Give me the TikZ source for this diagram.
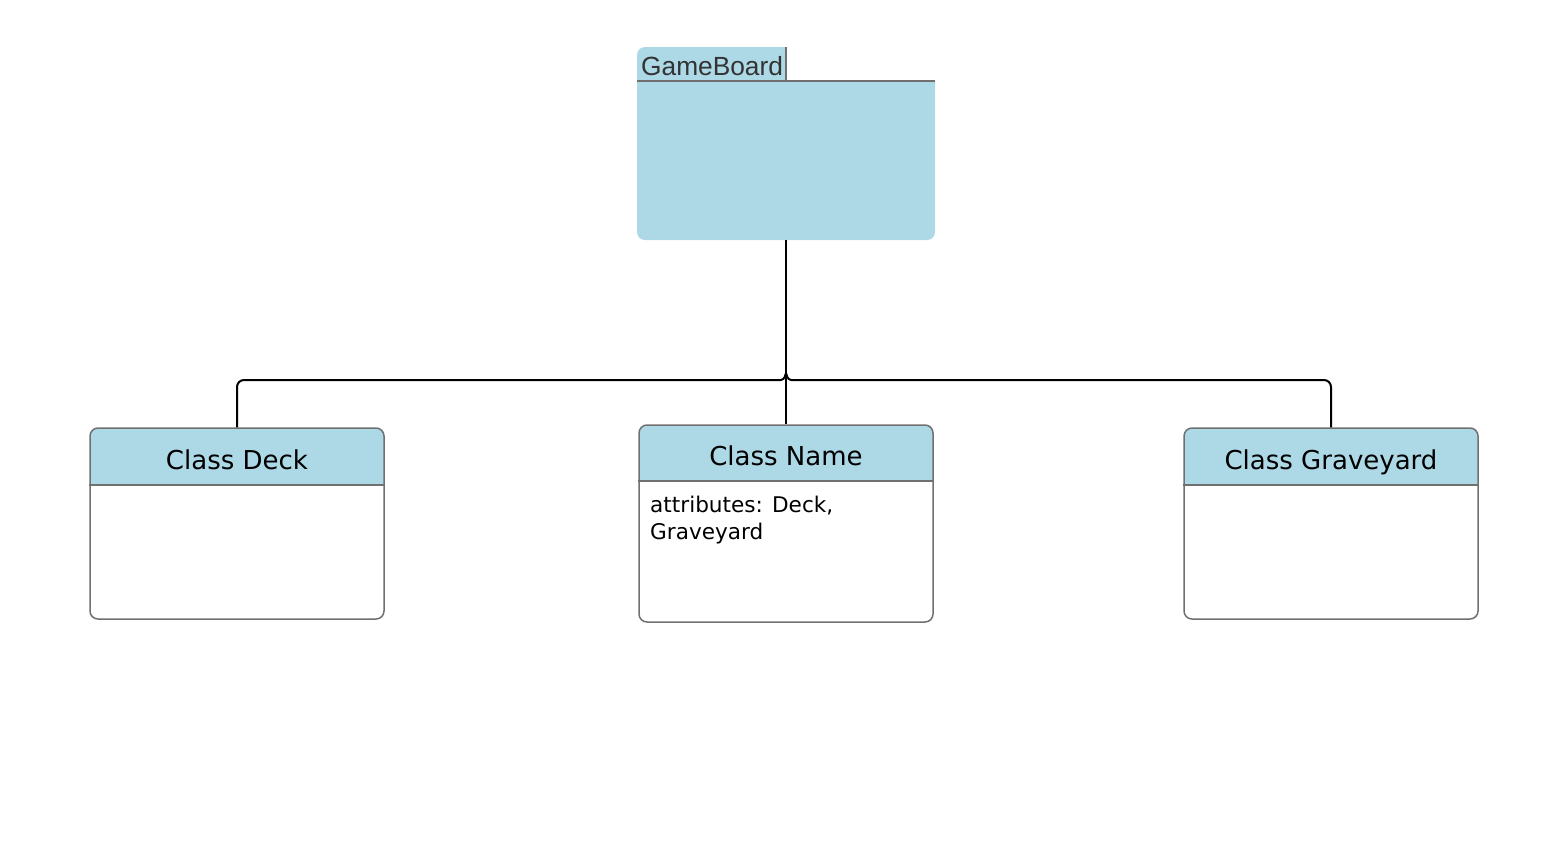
\documentclass[tikz,border=0pt]{standalone}
\usepackage{fontspec}
\newfontfamily\dejavu{DejaVu Sans}
\newfontfamily\arialfont{Liberation Sans}
\usepackage{tikz}
\usetikzlibrary{calc}

\definecolor{boxblue}{HTML}{ADD8E6}
\definecolor{edgegray}{HTML}{707070}
\definecolor{tabtext}{HTML}{333333}

\tikzset{
  classbox/.style={draw=edgegray, line width=1.5pt, rounded corners=8pt, minimum width=294pt, inner sep=0pt},
  classtitle/.style={font=\dejavu\fontsize{26}{30}\selectfont, text=black, anchor=base, inner sep=0pt},
  attrtext/.style={font=\dejavu\fontsize{21.6}{26.5}\selectfont, align=left, anchor=north west, inner sep=0pt},
  link/.style={draw=black, line width=2pt},
}

\begin{document}
\begin{tikzpicture}[x=1pt, y=-1pt]
            \useasboundingbox (0,0) rectangle (1568,846);
            % GameBoard
            \node[fill=boxblue, rounded corners=8pt, minimum width=298pt, minimum height=193pt, inner sep=0pt] (board) at (786,143.5) {};
            \fill[white] (786.8,46) rectangle (936,80.2);
            \draw[edgegray, line width=1.5pt] (637,81) -- (935,81);
            \draw[edgegray, line width=1.5pt] (786,47) -- (786,81);
            \node[font=\arialfont\fontsize{26.3}{30}\selectfont, text=tabtext, anchor=base west, inner sep=0pt] (boardtab) at (641,75) {GameBoard};

            % Class Deck
            \fill[boxblue] (90,485) -- (90,436) arc[start angle=180, end angle=270, radius=8] -- (376,428) arc[start angle=270, end angle=360, radius=8] -- (384,485) -- cycle;
            \node[classbox, minimum height=191pt] (deck) at (237,523.5) {};
            \draw[edgegray, line width=1.5pt] (deck.west |- 0,485) -- (deck.east |- 0,485);
            \node[classtitle] (decktitle) at (237,469) {Class Deck};

            % Class Name
            \fill[boxblue] (639,481) -- (639,433) arc[start angle=180, end angle=270, radius=8] -- (925,425) arc[start angle=270, end angle=360, radius=8] -- (933,481) -- cycle;
            \node[classbox, minimum height=197pt] (name) at (786,523.5) {};
            \draw[edgegray, line width=1.5pt] (name.west |- 0,481) -- (name.east |- 0,481);
            \node[classtitle] (nametitle) at (786,465) {Class Name};
            \node[attrtext] (nameattr) at (650,496) {attributes: Deck,\\Graveyard};

            % Class Graveyard
            \fill[boxblue] (1184,485) -- (1184,436) arc[start angle=180, end angle=270, radius=8] -- (1470,428) arc[start angle=270, end angle=360, radius=8] -- (1478,485) -- cycle;
            \node[classbox, minimum height=191pt] (grave) at (1331,523.5) {};
            \draw[edgegray, line width=1.5pt] (grave.west |- 0,485) -- (grave.east |- 0,485);
            \node[classtitle] (gravetitle) at (1331,469) {Class Graveyard};

            % connectors
            \coordinate (hopL) at (781,380);
            \coordinate (hopR) at (791,380);
            \draw[link] (board.south) -- (name.north);
            \draw[link, rounded corners=7pt] (deck.north) |- (hopL);
            \draw[link] (hopL) .. controls (785,379) and (785,376) .. (786,373) .. controls (787,376) and (787,379) .. (hopR);
            \draw[link, rounded corners=7pt] (hopR) -| (grave.north);
        \end{tikzpicture}
\end{document}
